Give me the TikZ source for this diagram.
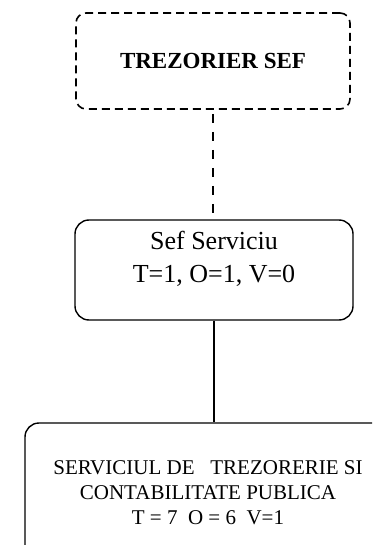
\documentclass[tikz,border=0pt]{standalone}
\usepackage{fontspec}
\setmainfont{Liberation Serif}

\begin{document}
\begin{tikzpicture}[x=1pt, y=-1pt]
	\clip (0,0) rectangle (372,545);
	\tikzstyle{every node} = [draw, rounded corners=14pt, line width=1.4pt, align=center]
	\node[line width=1.6pt, dash pattern=on 8pt off 5pt, rounded corners=10pt, minimum width=274pt, minimum height=96pt, font=\bfseries\fontsize{23}{28}\selectfont] (Trezorier) at (213, 61) {TREZORIER SEF};
	\node[minimum width=278pt, minimum height=100pt, text depth=26pt, font=\fontsize{26}{33}\selectfont] (Sef) at (214, 270) {Sef Serviciu\\T=1, O=1, V=0};
	\node[minimum width=366pt, minimum height=140pt, font=\fontsize{21}{25}\selectfont] (Serviciul) at (208, 493) {SERVICIUL DE\ \ \ TREZORERIE SI\\CONTABILITATE PUBLICA\\T = 7\ \ O = 6\ \ V=1};
	\draw [line width=2.5pt, dash pattern=on 9pt off 9pt, dash phase=-4pt] (Trezorier.south) -- (Trezorier.south |- Sef.north);
	\draw [line width=1.4pt] (Sef.south) -- (Sef.south |- Serviciul.north);
\end{tikzpicture}
\end{document}
